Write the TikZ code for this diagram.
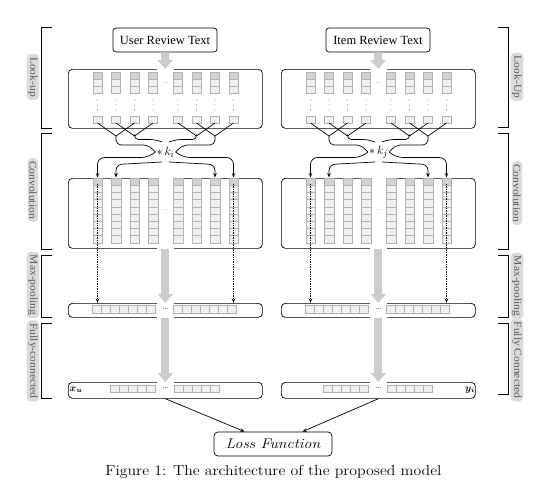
\documentclass[tikz,border=0pt]{standalone}
\usepackage{fontspec}
\usepackage{amsmath}
\usepackage{graphicx}
\newfontfamily\tnr{Liberation Serif}
\usetikzlibrary{arrows.meta}
\tikzset{
 panelbox/.style={draw, rounded corners=4pt, line width=0.7pt, inner sep=0pt},
 cellL/.style={draw=gray!60, fill=gray!12, line width=0.3pt},
 cellD/.style={draw=gray!60, fill=gray!35, line width=0.3pt},
 grayarr/.style={draw=gray!40, line width=8pt, -{Triangle[length=9pt,width=15pt]}},
 lab/.style={fill=gray!28, rounded corners=4pt, text=black!65, rotate=-90, font=\tnr\fontsize{10.5}{12}\selectfont, inner xsep=3pt, inner ysep=1.5pt},
 brk/.style={line width=0.8pt},
 conn/.style={line width=0.7pt},
 tipb/.style={-{Stealth[length=4.5pt,width=3.5pt]}},
 fewdots/.style={text=gray!70, font=\tnr\fontsize{7}{7}\selectfont, inner sep=0.5pt},
 blkdots/.style={font=\tnr\fontsize{7}{7}\selectfont, inner sep=0.5pt},
 textbox/.style={draw, rounded corners=3pt, line width=0.7pt, minimum width=104pt, minimum height=24pt, font=\tnr\fontsize{12.5}{14}\selectfont},
}
\newcommand\colsx{29.5,48,66.5,85,110,128.5,147,165.5}
\newcommand\stretchlab[1]{\scalebox{1.1}[1]{#1}}
\newcommand\drawpanel[3]{%
\begin{scope}[shift={(#1,0)}, name prefix=#2-]
 \node[panelbox, minimum width=194pt, minimum height=59pt, anchor=north west] (look) at (0,69) {};
 \node[panelbox, minimum width=194pt, minimum height=70pt, anchor=north west] (conv) at (0,178) {};
 \node[panelbox, minimum width=194pt, minimum height=14pt, anchor=north west] (mp) at (0,303) {};
 \node[panelbox, minimum width=194pt, minimum height=16pt, anchor=north west] (fc) at (0,382) {};
 \fill[white] (89,67) rectangle (106,71);
 \fill[white] (89,176) rectangle (106,180);
 \fill[white] (89,246) rectangle (106,250);
 \fill[white] (89,301) rectangle (106,305);
 \fill[white] (89,315) rectangle (106,319);
 \fill[white] (89,380) rectangle (106,384);
 \foreach \c [count=\i] in \colsx {
   \draw[cellD] (\c-4.5,72) rectangle (\c+4.5,79);
   \draw[cellL] (\c-4.5,79) rectangle (\c+4.5,86);
   \draw[cellL] (\c-4.5,86) rectangle (\c+4.5,93);
   \foreach \d in {100,105,110} \fill (\c,\d) circle (0.45pt);
   \draw[cellL] (\c-4.5,116) rectangle (\c+4.5,123);
   \draw[cellD] (\c-4.75,178) rectangle (\c+4.75,185.2);
   \foreach \k in {1,...,8} \draw[cellL] (\c-4.75,178+7.2*\k) rectangle (\c+4.75,185.2+7.2*\k);
   \coordinate (lb\i) at (\c,123);
   \coordinate (ct\i) at (\c,177.5);
   \coordinate (dp\i) at (\c,184);
 }
 \node[fewdots] (ld) at (97.5,83) {...};
 \node[fewdots] (cd) at (97.5,210) {...};
 \foreach \k in {0,...,6} {
   \draw[cellL] (24+9*\k,305) rectangle (33+9*\k,313);
   \draw[cellL] (105+9*\k,305) rectangle (114+9*\k,313);
 }
 \node[blkdots] (mpd) at (97.5,309) {...};
 \foreach \k in {0,...,4} {
   \draw[cellL] (42+9*\k,385) rectangle (51+9*\k,392);
   \draw[cellL] (106+9*\k,385) rectangle (115+9*\k,392);
 }
 \node[blkdots] (fcd) at (97.5,388.5) {...};
 \coordinate (ja) at (48,136);
 \coordinate (jb) at (66.5,136);
 \coordinate (jc) at (128.5,136);
 \coordinate (jd) at (147,136);
 \draw[conn] (lb1) -- (ja) -- (lb3);
 \draw[conn] (lb2) -- (jb) -- (lb4);
 \draw[conn] (lb5) -- (jc) -- (lb7);
 \draw[conn] (lb6) -- (jd) -- (lb8);
 \node[font=\fontsize{13}{14}\selectfont, inner sep=1pt] (k) at (97.5,152) {$*\,k_{#3}$};
 \node[fewdots] (dt) at (97.5,142) {...};
 \node[fewdots] (db) at (97.5,162) {...};
 \draw[conn, rounded corners=5pt] (ja) -- (48,145) -- (80,145) -- (k.west);
 \draw[conn, rounded corners=4pt] (jb) -- (66.5,139.5) -- (86,139.5) -- (dt.west);
 \draw[conn, rounded corners=5pt] (jd) -- (147,145) -- (115,145) -- (k.east);
 \draw[conn, rounded corners=4pt] (jc) -- (128.5,139.5) -- (109,139.5) -- (dt.east);
 \draw[conn, tipb, rounded corners=7pt] (k.west) -- (80,157.5) -- (29.5,157.5) -- (ct1);
 \draw[conn, tipb, rounded corners=6pt] (db.west) -- (48,164.5) -- (ct2);
 \draw[conn, tipb, rounded corners=7pt] (k.east) -- (115,157.5) -- (165.5,157.5) -- (ct8);
 \draw[conn, tipb, rounded corners=6pt] (db.east) -- (147,164.5) -- (ct7);
 \draw[conn, densely dotted, tipb] (dp1) -- (dp1 |- mp.north);
 \draw[conn, densely dotted, tipb] (dp8) -- (dp8 |- mp.north);
 \draw[grayarr] (conv.south) -- (mp.north);
 \draw[grayarr] (mp.south) -- (fc.north);
\end{scope}}
\begin{document}
\begin{tikzpicture}[x=1pt,y=-1pt]
\useasboundingbox (0,0) rectangle (552,491);
\drawpanel{68}{L}{i}
\drawpanel{281}{R}{j}
\node[textbox] (user) at (165,40) {User Review Text};
\node[textbox] (item) at (378,40) {Item Review Text};
\draw[grayarr] (user.south) -- (L-look.north);
\draw[grayarr] (item.south) -- (R-look.north);
\node[inner sep=0pt, font=\fontsize{10}{10}\selectfont] (xu) at (76,390) {$\boldsymbol{x_u}$};
\node[inner sep=0pt, font=\fontsize{10}{10}\selectfont] (yi) at (470,390) {$\boldsymbol{y_i}$};
\node[draw, rounded corners=4pt, line width=0.7pt, minimum width=118pt, minimum height=24pt, font=\itshape\fontsize{14}{16}\selectfont] (loss) at (273,444) {\scalebox{1.13}[1]{Loss Function}};
\draw[conn, tipb] (L-fc.south) -- ([xshift=31pt]loss.north west);
\draw[conn, tipb] (R-fc.south) -- ([xshift=-30pt]loss.north east);
\draw[brk] (52,27) -- (41,27) -- (41,128) -- (52,128);
\draw[brk] (52,133) -- (41,133) -- (41,249) -- (52,249);
\draw[brk] (52,255) -- (41,255) -- (41,317) -- (52,317);
\draw[brk] (52,323) -- (41,323) -- (41,398) -- (52,398);
\draw[brk] (498,27) -- (508,27) -- (508,127) -- (498,127);
\draw[brk] (498,133) -- (508,133) -- (508,249) -- (498,249);
\draw[brk] (498,255) -- (508,255) -- (508,317) -- (498,317);
\draw[brk] (498,323) -- (508,323) -- (508,394) -- (498,394);
\node[lab] (la1) at (33,77) {\stretchlab{Look-up}};
\node[lab] (la2) at (33,190) {\stretchlab{Convolution}};
\node[lab] (la3) at (33,285) {\stretchlab{Max-pooling}};
\node[lab] (la4) at (33,361) {\stretchlab{Fully-connected}};
\node[lab] (ra1) at (517,77) {\stretchlab{Look-Up}};
\node[lab] (ra2) at (517,193) {\stretchlab{Convolution}};
\node[lab] (ra3) at (517,286) {\stretchlab{Max-pooling}};
\node[lab] (ra4) at (517,360) {\stretchlab{Fully Connected}};
\node[font=\fontsize{14.5}{17}\selectfont] (cap) at (273.5,472) {\scalebox{1.09}[1]{Figure 1: The architecture of the proposed model}};
\end{tikzpicture}
\end{document}
